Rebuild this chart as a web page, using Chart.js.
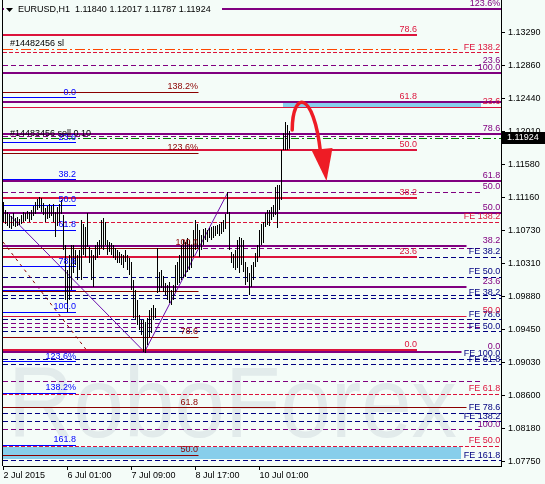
<!DOCTYPE html>
<html>
<head>
<meta charset="utf-8">
<script src="https://cdn.jsdelivr.net/npm/chart.js@4.4.0/dist/chart.umd.min.js"></script>
<style>
html, body { margin: 0; padding: 0; background: #f4fcf8; }
#wrap { width: 545px; height: 484px; }
</style>
</head>
<body>
<div id="wrap"><canvas id="chart_eurusd" width="545" height="484"></canvas></div>
<script>
// EURUSD H1, barras de 2 Jul a 10 Jul 2015 (maximos y minimos)
const barHigh = [
    1.11099, 1.10996, 1.10970, 1.10944, 1.10918, 1.10957, 1.10892, 1.10905, 1.10879, 1.10931,
    1.10970, 1.10957, 1.10983, 1.10970, 1.10996, 1.11047, 1.11099, 1.11138, 1.11164, 1.11151,
    1.11086, 1.11022, 1.11047, 1.11073, 1.11047, 1.11073, 1.10970, 1.11035, 1.11073, 1.11125,
    1.10931, 1.10544, 1.10221, 1.10415, 1.10544, 1.10544, 1.10480, 1.10415, 1.10480, 1.10867,
    1.10815, 1.10776, 1.10957, 1.10518, 1.10480, 1.10415, 1.10544, 1.10583, 1.10609, 1.10867,
    1.10892, 1.10841, 1.10609, 1.10583, 1.10570, 1.10544, 1.10505, 1.10480, 1.10454, 1.10428,
    1.10415, 1.10480, 1.10415, 1.10376, 1.10325, 1.10092, 1.09963, 1.09834, 1.09640, 1.09576,
    1.09576, 1.09550, 1.09602, 1.09705, 1.09730, 1.09769, 1.09730, 1.10505, 1.10195, 1.10221,
    1.10144, 1.10053, 1.10027, 1.10066, 1.09963, 1.10027, 1.10286, 1.10325, 1.10415, 1.10544,
    1.10609, 1.10583, 1.10634, 1.10609, 1.10544, 1.10737, 1.10867, 1.10815, 1.10737, 1.10673,
    1.10750, 1.10763, 1.10737, 1.10763, 1.10776, 1.10789, 1.10789, 1.10802, 1.10815, 1.10841,
    1.10867, 1.10944, 1.11228, 1.10970, 1.10454, 1.10428, 1.10480, 1.10609, 1.10647, 1.10634,
    1.10609, 1.10325, 1.10260, 1.10182, 1.10286, 1.10325, 1.10441, 1.10544, 1.10737, 1.10815,
    1.10841, 1.10957, 1.10996, 1.10996, 1.11035, 1.11060, 1.11293, 1.11319, 1.11319, 1.11771,
    1.11990, 1.12132, 1.12093, 1.12017
];
const barLow = [
    1.10841, 1.10815, 1.10789, 1.10763, 1.10750, 1.10789, 1.10776, 1.10789, 1.10802, 1.10815,
    1.10841, 1.10854, 1.10879, 1.10841, 1.10867, 1.10918, 1.10944, 1.10996, 1.11022, 1.10970,
    1.10931, 1.10841, 1.10879, 1.10892, 1.10918, 1.10841, 1.10647, 1.10789, 1.10841, 1.10944,
    1.10480, 1.09834, 1.09679, 1.09834, 1.09963, 1.10182, 1.10286, 1.10092, 1.10221, 1.10092,
    1.10415, 1.10389, 1.10518, 1.10312, 1.10092, 1.10002, 1.10350, 1.10376, 1.10415, 1.10505,
    1.10480, 1.10544, 1.10415, 1.10454, 1.10415, 1.10376, 1.10350, 1.10312, 1.10312, 1.10286,
    1.10247, 1.10325, 1.10221, 1.10157, 1.09963, 1.09602, 1.09576, 1.09511, 1.09447, 1.09382,
    1.09163, 1.09150, 1.09253, 1.09356, 1.09408, 1.09576, 1.09602, 1.09924, 1.09937, 1.09989,
    1.09937, 1.09898, 1.09834, 1.09795, 1.09769, 1.09834, 1.09937, 1.10027, 1.10053, 1.10092,
    1.10118, 1.10131, 1.10195, 1.10221, 1.10247, 1.10389, 1.10480, 1.10505, 1.10389, 1.10480,
    1.10544, 1.10609, 1.10583, 1.10634, 1.10609, 1.10634, 1.10660, 1.10686, 1.10660, 1.10686,
    1.10712, 1.10750, 1.10944, 1.10480, 1.10312, 1.10247, 1.10221, 1.10247, 1.10182, 1.10286,
    1.10195, 1.10027, 1.10066, 1.09898, 1.10002, 1.10092, 1.10260, 1.10325, 1.10389, 1.10544,
    1.10570, 1.10776, 1.10802, 1.10789, 1.10867, 1.10905, 1.10931, 1.10763, 1.10996, 1.11125,
    1.11771, 1.11771, 1.11771, 1.11787
];
const lastPrice = 1.11924;
const titleText = 'EURUSD,H1  1.11840 1.12017 1.11787 1.11924';
const watermarkText = 'RoboForex';

// ejes
const xTickValues = [0, 32, 64, 96, 128];
const xTickLabels = ['2 Jul 2015', '6 Jul 01:00', '7 Jul 09:00', '8 Jul 17:00', '10 Jul 01:00'];
const yTickValues = [1.13290, 1.12860, 1.12440, 1.12010, 1.11580, 1.11160, 1.10730,
    1.10310, 1.09880, 1.09450, 1.09030, 1.08600, 1.08180, 1.07750];
const xMin = -0.25, xMax = 248.75;
const yMin = 1.07691, yMax = 1.13707;

// niveles fibo (retroceso morado)
const purpleLevels = [1.13591, 1.12765, 1.12394, 1.11977, 1.11374, 1.10961, 1.10531, 1.10006, 1.09167];
const purpleTags = ['123.6%', '100.0', '', '78.6', '61.8', '50.0', '38.2', '23.6', '0.0'];
const purpleEnds = [248.75, 248.75, 248.75, 248.75, 248.75, 248.75, 231.5, 231.5, 229];

const purpleDashLevels = [1.12855, 1.11951, 1.11224, 1.10496, 1.09533, 1.09476, 1.08779, 1.08156];
const purpleDashTags = ['23.6', '', '50.0', '', '', '', '', '100.0'];

// retroceso rojo
const crimsonLevels = [1.13249, 1.12394, 1.11771, 1.11155, 1.10393, 1.09189];
const crimsonTags = ['78.6', '61.8', '50.0', '38.2', '23.6', '0.0'];
const crimsonThinLevels = [1.12322, 1.09627];
const crimsonThinTags = ['23.6', '50.0'];
const crimsonThinEnds = [248.75, 231.5];
const crimsonDashLevels = [1.13023, 1.10835, 1.08617, 1.07949];
const crimsonDashTags = ['FE 138.2', 'FE 138.2', 'FE 61.8', 'FE 50.0'];

// expansiones FE
const navyLevels = [1.10385, 1.10127, 1.09889, 1.09856, 1.09576, 1.09425, 1.09068, 1.08995, 1.08371, 1.08263, 1.07759];
const navyTags = ['FE 38.2', 'FE 50.0', '', 'FE 38.2', 'FE 78.6', 'FE 50.0', 'FE 100.0', 'FE 61.8', 'FE 78.6', 'FE 138.2', 'FE 161.8'];

const maroonLevels = [1.12519, 1.11728, 1.10501, 1.09950, 1.09352, 1.08440, 1.07833];
const maroonTags = ['138.2%', '123.6%', '100.0', '', '78.6', '61.8', '50.0'];
const maroonEnds = [97.5, 97.5, 97.5, 97.5, 97.5, 231.5, 97.5];

const blueLevels = [1.12442, 1.11861, 1.11387, 1.11060, 1.10734, 1.10264, 1.09954, 1.09675, 1.09037, 1.08629, 1.07962];
const blueTags = ['0.0', '23.6', '38.2', '50.0', '61.8', '78.6', '', '100.0', '123.6%', '138.2%', '161.8'];

// ordenes abiertas
const orderLevels = [1.13071, 1.11913];
const orderTags = ['#14482456 sl', '#14483456 sell 0.10'];
const orderEnds = [227, 248.75];

// zonas azules
const bandTop = [1.12381, 1.07936];
const bandBottom = [1.12329, 1.07781];
const bandFrom = [139.75, -0.25];
const bandTo = [238.75, 228.75];

// lineas diagonales
const trendX = [3.5, 70.5, 112];
const trendY = [1.10918, 1.09163, 1.11215];
const expansionX = [-0.25, 42.25];
const expansionY = [1.10583, 1.09163];

// flecha roja (curva y punta)
const arrowX = [144.35, 144.5, 155, 158.5];
const arrowY = [1.12029, 1.12545, 1.12545, 1.11745];
const arrowHeadX = [154, 164.5, 161.5];
const arrowHeadY = [1.11771, 1.11797, 1.11370];

const fondo = '#f4fcf8';
const fuente = '"Liberation Sans", Arial, sans-serif';

const estilos = {
    purple:      { color: '#800080', width: 2, dash: [],     label: '#800080', labelX: 248.4, order: 1 },
    purpleDash:  { color: '#800080', width: 1, dash: [5, 3], label: '#800080', labelX: 248.4, order: 4 },
    crimson:     { color: '#dc143c', width: 2, dash: [],     label: '#dc143c', labelX: 206.75, order: 2 },
    crimsonThin: { color: '#dc143c', width: 1, dash: [],     label: '#dc143c', labelX: 248.4, order: 3 },
    crimsonDash: { color: '#dc143c', width: 1, dash: [4, 2], label: '#dc143c', labelX: 248.4, order: 4 },
    navy:        { color: '#000080', width: 1, dash: [5, 3], label: '#000080', labelX: 248.4, order: 4 },
    maroon:      { color: '#8b0000', width: 1, dash: [],     label: '#8b0000', labelX: 97.25, order: 3 },
    blue:        { color: '#0000ff', width: 1, dash: [],     label: '#0000ff', labelX: 36.25, order: 3 },
};

const grupos = [
    { levels: blueLevels, tags: blueTags, start: xMin, ends: 36.25, st: estilos.blue },
    { levels: maroonLevels, tags: maroonTags, start: xMin, ends: maroonEnds, st: estilos.maroon },
    { levels: navyLevels, tags: navyTags, start: xMin, ends: xMax, st: estilos.navy },
    { levels: purpleDashLevels, tags: purpleDashTags, start: xMin, ends: 238.5, st: estilos.purpleDash },
    { levels: crimsonDashLevels, tags: crimsonDashTags, start: xMin, ends: xMax, st: estilos.crimsonDash },
    { levels: crimsonThinLevels, tags: crimsonThinTags, start: xMin, ends: crimsonThinEnds, st: estilos.crimsonThin },
    { levels: crimsonLevels, tags: crimsonTags, start: xMin, ends: 206.75, st: estilos.crimson },
    { levels: purpleLevels, tags: purpleTags, start: xMin, ends: purpleEnds, st: estilos.purple },
];

function nivelesDatasets(g) {
    return g.levels.map((v, i) => ({
        type: 'line',
        data: [{ x: g.start, y: v }, { x: Array.isArray(g.ends) ? g.ends[i] : g.ends, y: v }],
        borderColor: g.st.color,
        borderWidth: g.st.width,
        borderDash: g.st.dash,
        pointRadius: 0,
        fill: false,
        order: g.st.order,
        nivel: true
    }));
}

// alinea las lineas horizontales al pixel
const ajustePixel = {
    id: 'ajustePixel',
    beforeDatasetsDraw(chart) {
        chart.data.datasets.forEach((ds, i) => {
            if (!ds.nivel) return;
            const meta = chart.getDatasetMeta(i);
            const w = ds.borderWidth;
            meta.data.forEach(p => { p.y = Math.round(p.y - w / 2) + w / 2; });
        });
    }
};

const fondoPlugin = {
    id: 'fondoPlugin',
    beforeDraw(chart) {
        const ctx = chart.ctx;
        ctx.save();
        ctx.fillStyle = fondo;
        ctx.fillRect(0, 0, chart.width, chart.height);
        ctx.restore();
    },
    beforeDatasetsDraw(chart) {
        const ctx = chart.ctx, xs = chart.scales.x, ys = chart.scales.y, a = chart.chartArea;
        ctx.save();
        // marca de agua
        ctx.font = '100px ' + fuente;
        const w = ctx.measureText(watermarkText).width;
        ctx.fillStyle = '#e2ebeb';
        ctx.textBaseline = 'alphabetic';
        ctx.translate(a.left + 5, 437);
        ctx.scale(449 / w, 1);
        ctx.fillText(watermarkText, 0, 0);
        ctx.restore();
        // zonas azules
        ctx.save();
        ctx.fillStyle = '#87ceeb';
        for (let i = 0; i < bandTop.length; i++) {
            const x1 = Math.round(xs.getPixelForValue(bandFrom[i]));
            const x2 = Math.round(xs.getPixelForValue(bandTo[i]));
            const y1 = Math.round(ys.getPixelForValue(bandTop[i]));
            const y2 = Math.round(ys.getPixelForValue(bandBottom[i]));
            ctx.fillRect(x1, y1, x2 - x1, y2 - y1);
        }
        ctx.restore();
    }
};

const etiquetas = {
    id: 'etiquetas',
    afterDatasetsDraw(chart) {
        const ctx = chart.ctx, xs = chart.scales.x, ys = chart.scales.y, a = chart.chartArea;
        ctx.save();
        // flecha
        ctx.strokeStyle = '#ee1c25';
        ctx.fillStyle = '#ee1c25';
        ctx.lineWidth = 3.5;
        ctx.lineCap = 'round';
        const ax = arrowX.map(v => xs.getPixelForValue(v));
        const ay = arrowY.map(v => ys.getPixelForValue(v));
        ctx.beginPath();
        ctx.moveTo(ax[0], ay[0]);
        ctx.bezierCurveTo(ax[1], ay[1], ax[2], ay[2], ax[3], ay[3]);
        ctx.stroke();
        ctx.beginPath();
        arrowHeadX.forEach((v, i) => {
            const px = xs.getPixelForValue(v), py = ys.getPixelForValue(arrowHeadY[i]);
            if (i === 0) ctx.moveTo(px, py); else ctx.lineTo(px, py);
        });
        ctx.closePath();
        ctx.fill();

        // textos de los niveles
        ctx.font = '9px ' + fuente;
        ctx.textBaseline = 'bottom';
        ctx.textAlign = 'right';
        grupos.forEach(g => {
            ctx.fillStyle = g.st.label;
            g.tags.forEach((t, i) => {
                if (!t) return;
                ctx.fillText(t, xs.getPixelForValue(g.st.labelX), Math.round(ys.getPixelForValue(g.levels[i])) - 1);
            });
        });
        ctx.textAlign = 'left';
        ctx.fillStyle = '#000';
        orderTags.forEach((t, i) => {
            ctx.fillText(t, xs.getPixelForValue(3.25), Math.round(ys.getPixelForValue(orderLevels[i])) - 1);
        });

        // marco izquierdo
        ctx.fillStyle = '#000';
        ctx.fillRect(a.left - 1, 0, 1, a.bottom);

        // titulo
        ctx.fillStyle = fondo;
        ctx.fillRect(a.left + 1, 3, 218, 13);
        ctx.fillStyle = '#000';
        ctx.beginPath();
        ctx.moveTo(6, 8); ctx.lineTo(13, 8); ctx.lineTo(9.5, 12);
        ctx.closePath();
        ctx.fill();
        ctx.textBaseline = 'middle';
        ctx.fillText(titleText, 18, 10);

        // precio actual
        const py = Math.round(ys.getPixelForValue(lastPrice));
        ctx.fillStyle = '#000';
        ctx.fillRect(a.right + 1, py - 6, chart.width - a.right - 1, 12);
        ctx.fillStyle = '#fff';
        ctx.font = '9px ' + fuente;
        ctx.fillText(lastPrice.toFixed(5), a.right + 6, py);
        ctx.restore();
    }
};

function chartCreate() {
    const barras = barHigh.map((h, i) => ({ x: i, y: [barLow[i], h] }));

    let datasets = [{
        type: 'bar',
        data: barras,
        backgroundColor: '#000',
        borderWidth: 0,
        barThickness: 1,
        inflateAmount: 0,
        order: 0
    }];

    grupos.forEach(g => { datasets = datasets.concat(nivelesDatasets(g)); });

    // linea del stop loss y de la orden
    datasets.push({
        type: 'line', data: [{ x: xMin, y: orderLevels[0] }, { x: orderEnds[0], y: orderLevels[0] }],
        borderColor: '#ff4500', borderWidth: 1, borderDash: [10, 3, 2, 3], pointRadius: 0, order: 4, nivel: true
    });
    datasets.push({
        type: 'line', data: [{ x: xMin, y: orderLevels[1] }, { x: orderEnds[1], y: orderLevels[1] }],
        borderColor: '#008000', borderWidth: 1, borderDash: [8, 3, 2, 3], pointRadius: 0, order: 4, nivel: true
    });
    // diagonales
    datasets.push({
        type: 'line', data: trendX.map((x, i) => ({ x: x, y: trendY[i] })),
        borderColor: '#6a0dad', borderWidth: 1, pointRadius: 0, order: 3, tension: 0
    });
    datasets.push({
        type: 'line', data: expansionX.map((x, i) => ({ x: x, y: expansionY[i] })),
        borderColor: '#8b0000', borderWidth: 1, borderDash: [3, 4], pointRadius: 0, order: 3
    });

    const config = {
        type: 'bar',
        data: { datasets: datasets },
        options: {
            responsive: false,
            animation: false,
            devicePixelRatio: 1,
            events: [],
            layout: { padding: { left: 3, top: 0, right: 0, bottom: 0 } },
            plugins: { legend: { display: false }, tooltip: { enabled: false }, title: { display: false } },
            scales: {
                x: {
                    type: 'linear',
                    position: 'bottom',
                    min: xMin,
                    max: xMax,
                    offset: false,
                    grid: { display: true, drawOnChartArea: false, drawTicks: true, tickLength: 4, color: '#000', offset: false },
                    border: { display: true, color: '#000', width: 1 },
                    ticks: {
                        autoSkip: false, maxRotation: 0, minRotation: 0, align: 'start', padding: 0,
                        color: '#000', font: { family: fuente, size: 9 },
                        callback: (v, i) => xTickLabels[i]
                    },
                    afterBuildTicks: s => { s.ticks = xTickValues.map(v => ({ value: v })); },
                    afterFit: s => { s.height = 18; s.paddingLeft = 0; s.paddingRight = 0; }
                },
                y: {
                    type: 'linear',
                    position: 'right',
                    min: yMin,
                    max: yMax,
                    grid: { display: true, drawOnChartArea: false, drawTicks: true, tickLength: 4, color: '#000' },
                    border: { display: true, color: '#000', width: 1 },
                    ticks: {
                        padding: 3, crossAlign: 'near', color: '#000', font: { family: fuente, size: 9 },
                        callback: v => v.toFixed(5)
                    },
                    afterBuildTicks: s => { s.ticks = yTickValues.map(v => ({ value: v })); },
                    afterFit: s => { s.width = 44; s.paddingTop = 0; s.paddingBottom = 0; }
                }
            }
        },
        plugins: [fondoPlugin, ajustePixel, etiquetas]
    };

    new Chart(document.getElementById('chart_eurusd'), config);
}

window.onload = function() {
    chartCreate();
}
</script>
</body>
</html>
